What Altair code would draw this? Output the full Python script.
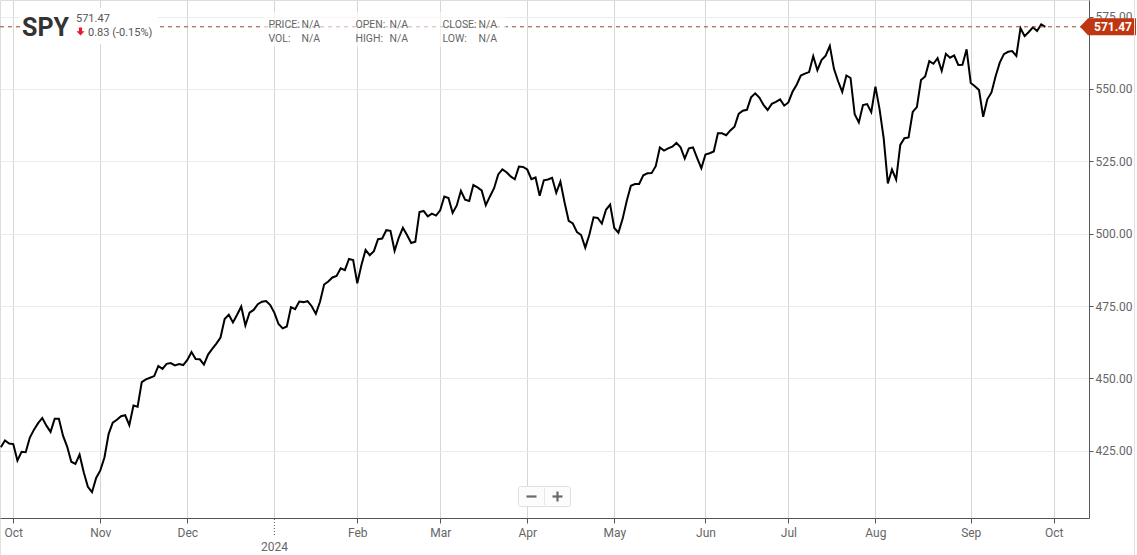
import json
import altair as alt
import pandas as pd

# ---------------- data (daily closes) ----------------
sep23 = [426.21, 428.52, 427.48]
oct23 = [427.31, 421.59, 424.66, 424.50, 429.54, 432.29, 434.54, 436.32, 433.66, 431.50,
         436.04, 436.02, 430.21, 426.43, 421.19, 420.46, 423.63, 417.55, 412.55, 410.68,
         415.59, 418.20]
nov23 = [422.66, 430.76, 434.69, 435.69, 436.93, 437.25, 433.84, 440.61, 440.19, 448.73,
         449.68, 450.23, 450.79, 454.26, 453.27, 455.02, 455.30, 454.48, 454.93, 454.61,
         456.40]
dec23 = [459.10, 456.69, 456.60, 454.76, 458.23, 460.20, 461.99, 464.10, 470.50, 472.01,
         469.33, 471.97, 474.84, 468.26, 472.70, 473.65, 475.65, 476.51, 476.69, 475.31]
jan24 = [472.65, 468.79, 467.28, 467.92, 474.60, 473.88, 476.56, 476.35, 476.68, 474.93,
         472.29, 476.49, 482.43, 483.45, 484.86, 485.39, 488.03, 487.41, 491.27, 490.89,
         482.88]
feb24 = [489.20, 494.35, 492.55, 493.98, 498.10, 498.32, 501.20, 500.98, 494.08, 498.57,
         502.01, 499.51, 496.76, 497.21, 507.50, 507.85, 505.99, 506.93, 506.26, 508.08]
mar24 = [512.85, 512.30, 507.18, 509.75, 514.81, 511.72, 511.28, 516.78, 515.97, 514.95,
         509.83, 512.86, 515.71, 520.48, 522.20, 521.21, 519.77, 518.81, 523.17, 523.07]
apr24 = [522.16, 518.84, 519.41, 513.07, 518.43, 518.72, 519.32, 514.12, 518.00, 510.85,
         504.45, 503.53, 500.55, 499.52, 495.16, 499.72, 505.65, 505.41, 503.49, 508.26,
         510.06, 501.98]
may24 = [500.35, 505.03, 511.29, 516.57, 517.14, 517.19, 520.17, 520.84, 520.91, 523.30,
         529.78, 528.69, 529.45, 530.06, 531.36, 529.83, 525.96, 529.44, 529.81, 526.10,
         522.61, 527.37]
jun24 = [527.80, 528.39, 534.67, 534.66, 534.01, 535.66, 536.95, 541.36, 542.45, 542.78,
         547.10, 548.49, 547.00, 544.51, 542.74, 544.83, 545.51, 546.37, 544.22]
jul24 = [545.34, 549.01, 551.46, 554.64, 555.28, 555.82, 561.32, 556.48, 559.99, 561.53,
         564.86, 556.94, 552.66, 548.99, 554.65, 553.78, 541.23, 538.41, 544.44, 544.76,
         542.00, 550.81]
aug24 = [543.01, 532.90, 517.38, 522.15, 518.66, 530.65, 532.99, 533.27, 542.04, 543.75,
         553.07, 554.31, 559.61, 558.70, 560.62, 556.22, 562.13, 560.79, 561.56, 558.30,
         558.35, 563.68]
sep24 = [552.08, 550.95, 549.61, 540.36, 546.41, 548.79, 554.42, 559.09, 562.01, 562.84,
         563.07, 561.40, 570.98, 568.25, 569.67, 571.30, 570.04, 572.30, 571.47]

months = [sep23, oct23, nov23, dec23, jan24, feb24, mar24, apr24, may24, jun24, jul24, aug24, sep24]
closes = [v for m in months for v in m]

tick_idx = [3, 24, 45, 66, 86, 106, 127, 148, 170, 190, 211, 234, 254]
tick_labels = ["Oct", "Nov", "Dec", "", "Feb", "Mar", "Apr", "May", "Jun", "Jul", "Aug", "Sep", "Oct"]
y_ticks = [425, 450, 475, 500, 525, 550, 575]
year_idx = 66
year_label = "2024"

symbol = "SPY"
last_price = closes[-1]
change = -0.83
change_pct = -0.15

X_DOMAIN = [-0.2, 262.53]
Y_DOMAIN = [401.76, 580.73]

FONT = "Roboto"
W, H = 1089, 518

df = pd.DataFrame({"idx": list(range(len(closes))), "close": closes})
price_df = pd.DataFrame({"idx": [len(closes) - 1], "close": [last_price], "label": [f"{last_price:.2f}"]})
year_df = pd.DataFrame({"idx": [year_idx], "close": [last_price], "label": [year_label]})
one = pd.DataFrame({"k": [0]})

xscale = alt.Scale(domain=X_DOMAIN, nice=False, zero=False)
yscale = alt.Scale(domain=Y_DOMAIN, nice=False, zero=False)

label_expr = f"{json.dumps(tick_labels)}[indexof({json.dumps(tick_idx)}, datum.value)]"

x_axis = alt.Axis(values=tick_idx, labelExpr=label_expr, title=None, grid=True,
                  gridColor="#d6d6d6", gridWidth=1, domainColor="#555555",
                  tickColor="#555555", tickSize=5,
                  tickOpacity={"condition": {"test": f"datum.value === {year_idx}", "value": 0}, "value": 1},
                  labelColor="#666666", labelFontSize=12, labelFont=FONT,
                  labelBaseline="alphabetic", labelPadding=13, labelFlush=False,
                  labelOverlap=False, labelBound=False, zindex=0)
y_axis = alt.Axis(orient="right", values=y_ticks, format=".2f", title=None, grid=True,
                  gridColor="#ebebeb", domainColor="#555555", tickColor="#555555",
                  tickSize=4, labelPadding=2, labelColor="#666666", labelFontSize=12,
                  labelFont=FONT, labelFlush=False, labelOverlap=False, zindex=0)

X = alt.X("idx:Q", scale=xscale, axis=x_axis)
Y = alt.Y("close:Q", scale=yscale, axis=y_axis)

line = alt.Chart(df).mark_line(color="#000000", strokeWidth=2, clip=True).encode(x=X, y=Y)

price_line = alt.Chart(price_df).mark_rule(color="#9c4334", strokeDash=[4, 4], strokeWidth=1).encode(
    y=Y, x=alt.value(0), x2=alt.value(1082))

# header backgrounds
hdr_box1 = alt.Chart(one).mark_rect(fill="white", opacity=1).encode(
    x=alt.value(20), x2=alt.value(158), y=alt.value(8), y2=alt.value(44))
hdr_box2 = alt.Chart(one).mark_rect(fill="white", opacity=0.6).encode(
    x=alt.value(264), x2=alt.value(506), y=alt.value(12), y2=alt.value(47))


def txt(s, x, y, size=10.5, weight="normal", color="#666666", align="left"):
    return alt.Chart(one).mark_text(text=s, align=align, baseline="alphabetic", fontSize=size,
                                    fontWeight=weight, color=color, font=FONT).encode(
        x=alt.value(x), y=alt.value(y))


header = [
    txt(symbol, 22, 35.5, size=25, weight="bold", color="#333333"),
    txt(f"{last_price:.2f}", 76, 21.5, size=11, color="#555555"),
    txt(f"{abs(change):.2f} ({change_pct:.2f}%)", 88, 35.5, size=11, color="#555555"),
    txt("PRICE:", 268.5, 27.5), txt("N/A", 301.5, 27.5),
    txt("OPEN:", 355.5, 27.5), txt("N/A", 389.5, 27.5),
    txt("CLOSE:", 442.5, 27.5), txt("N/A", 478.5, 27.5),
    txt("VOL:", 268.5, 42), txt("N/A", 301.5, 42),
    txt("HIGH:", 355.5, 42), txt("N/A", 389.5, 42),
    txt("LOW:", 442.5, 42), txt("N/A", 478.5, 42),
]

down_arrow = alt.Chart(one).mark_point(
    shape="M -0.4 -1 L 0.4 -1 L 0.4 -0.05 L 1 -0.05 L 0 1 L -1 -0.05 L -0.4 -0.05 Z",
    filled=True, size=64, color="#e8192c", opacity=1, strokeWidth=0).encode(
    x=alt.value(80.5), y=alt.value(31.5))

price_box = alt.Chart(price_df).mark_point(
    shape="M -1 0 L -0.714 -0.304 L 1 -0.304 L 1 0.304 L -0.714 0.304 Z",
    filled=True, size=3136, color="#bf3712", opacity=1, strokeWidth=0).encode(
    x=alt.value(1108), y=Y)
price_text = alt.Chart(price_df).mark_text(color="white", fontWeight="bold", fontSize=12, font=FONT,
                                           align="center", baseline="middle").encode(
    x=alt.value(1113), y=Y, text="label:N")

# year tick + label
year_tick = alt.Chart(year_df).mark_rule(color="#555555", strokeDash=[1, 2], strokeWidth=1).encode(
    x=X, y=alt.value(519), y2=alt.value(537))
year_text = alt.Chart(year_df).mark_text(color="#666666", fontSize=12, font=FONT, align="center",
                                         baseline="alphabetic").encode(
    x=X, y=alt.value(551), text="label:N")

# zoom buttons
zbox = alt.Chart(one).mark_rect(fill="#fcfcfc", stroke="#e0e0e0", strokeWidth=1, cornerRadius=2).encode(
    x=alt.value(518.5), x2=alt.value(570.5), y=alt.value(486.5), y2=alt.value(506.5))
zdiv = alt.Chart(one).mark_rule(color="#e8e8e8").encode(
    x=alt.value(544.5), y=alt.value(488), y2=alt.value(505))
zminus = alt.Chart(one).mark_rule(color="#6a6a6a", strokeWidth=2.2).encode(
    x=alt.value(526.5), x2=alt.value(536.5), y=alt.value(496.5))
zplus_h = alt.Chart(one).mark_rule(color="#6a6a6a", strokeWidth=2.2).encode(
    x=alt.value(552.5), x2=alt.value(562.5), y=alt.value(496.5))
zplus_v = alt.Chart(one).mark_rule(color="#6a6a6a", strokeWidth=2.2).encode(
    x=alt.value(557.5), y=alt.value(491.5), y2=alt.value(501.5))

# container edges
edge_r = alt.Chart(one).mark_rule(color="#e2e2e2").encode(
    x=alt.value(1134.5), y=alt.value(0), y2=alt.value(555))
edge_l = alt.Chart(one).mark_rule(color="#e2e2e2").encode(
    x=alt.value(0.5), y=alt.value(519), y2=alt.value(555))

chart = alt.layer(
    line, price_line, hdr_box1, hdr_box2, *header, down_arrow, price_box, price_text,
    year_tick, year_text, zbox, zdiv, zminus, zplus_h, zplus_v, edge_r, edge_l,
).properties(
    width=W, height=H,
    padding={"left": 0, "top": 0, "right": 48, "bottom": 37},
    autosize=alt.AutoSizeParams(type="none"),
    background="white",
).configure_view(strokeWidth=0).configure(font=FONT)

chart.save("out.html", embed_options={"renderer": "svg", "actions": False})
